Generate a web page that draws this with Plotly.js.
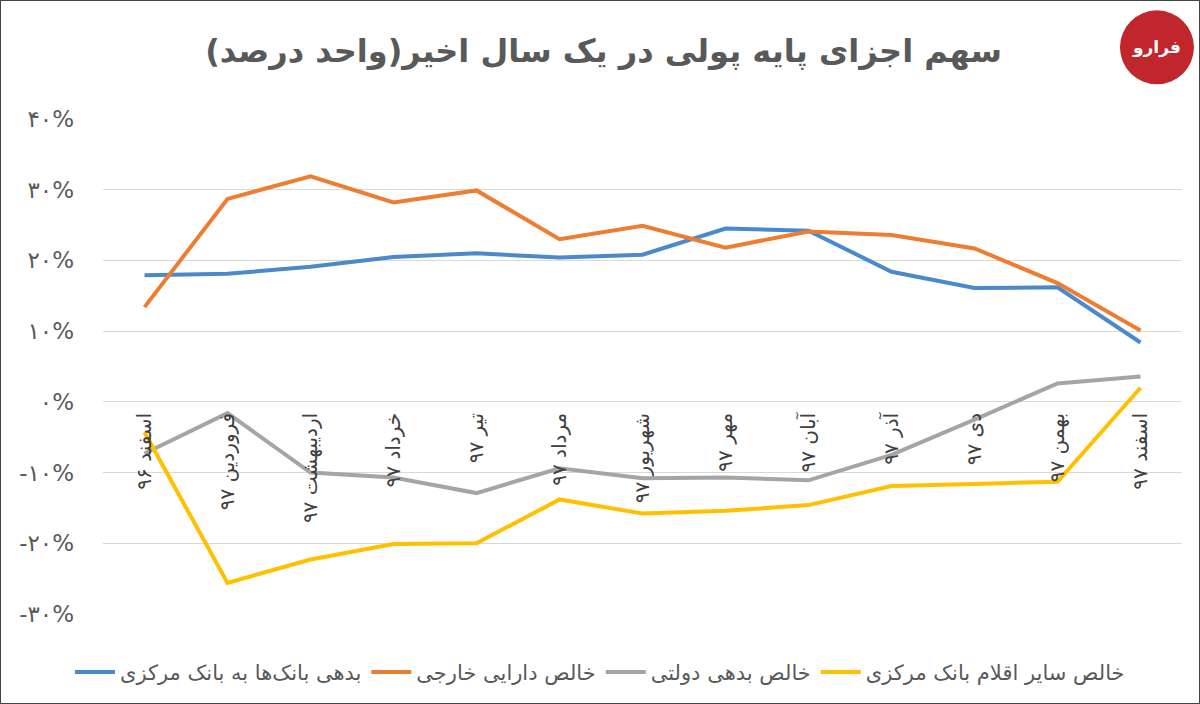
<!DOCTYPE html>
<html>
<head>
<meta charset="utf-8">
<script src="https://cdn.plot.ly/plotly-3.0.1.min.js"></script>
<style>
html,body{margin:0;padding:0;background:#fff;}
#wrap{position:relative;width:1200px;height:704px;}
#chart{width:1200px;height:704px;}
#frame{position:absolute;left:0;top:0;width:1200px;height:704px;box-sizing:border-box;border:1px solid #444;pointer-events:none;}
</style>
</head>
<body>
<div id="wrap"><div id="chart"></div><div id="frame"></div></div>
<script>
// Categories (months)
const categories = ["اسفند ۹۶","فروردین ۹۷","اردیبهشت ۹۷","خرداد ۹۷","تیر ۹۷","مرداد ۹۷","شهریور ۹۷","مهر ۹۷","آبان ۹۷","آذر ۹۷","دی ۹۷","بهمن ۹۷","اسفند ۹۷"];

// Series values (percent)
const banksDebt   = [17.9, 18.1, 19.1, 20.5, 21.0, 20.4, 20.8, 24.5, 24.2, 18.4, 16.1, 16.2, 8.4];
const foreignAssets = [13.4, 28.7, 31.9, 28.2, 29.9, 23.0, 24.9, 21.8, 24.1, 23.6, 21.7, 16.8, 10.1];
const govDebt     = [-7.3, -1.6, -10.0, -10.7, -12.9, -9.4, -10.8, -10.7, -11.1, -7.5, -2.5, 2.6, 3.6];
const otherItems  = [-4.3, -25.6, -22.3, -20.1, -20.0, -13.8, -15.8, -15.4, -14.6, -11.9, -11.6, -11.3, 2.0];

// Series names
const seriesNames = ["بدهی بانک‌ها به بانک مرکزی","خالص دارایی خارجی","خالص بدهی دولتی","خالص سایر اقلام بانک مرکزی"];

// Y tick labels
const yTickVals = [-30, -20, -10, 0, 10, 20, 30, 40];
const yTickText = ["-۳۰%","-۲۰%","-۱۰%","۰%","۱۰%","۲۰%","۳۰%","۴۰%"];

const colors = ["#4A89CB", "#ED7D31", "#A5A5A5", "#FFC000"];
const seriesData = [banksDebt, foreignAssets, govDebt, otherItems];

const traces = seriesData.map((vals, i) => ({
  type: "scatter",
  mode: "lines",
  x: categories,
  y: vals,
  name: seriesNames[i],
  line: {color: colors[i], width: 4},
  cliponaxis: false
}));

const font = "DejaVu Sans, Noto Sans, sans-serif";

const layout = {
  width: 1200,
  height: 704,
  paper_bgcolor: "#ffffff",
  plot_bgcolor: "#ffffff",
  margin: {l: 103, r: 18, t: 119, b: 90},
  title: {
    text: "<b>سهم اجزای پایه پولی در یک سال اخیر(واحد درصد)</b>",
    font: {family: font, size: 32, color: "#595959"},
    x: 0.503, xref: "container", xanchor: "center",
    y: 0.928, yref: "container", yanchor: "middle"
  },
  showlegend: true,
  legend: {
    orientation: "h",
    x: 0.5, xref: "container", xanchor: "center",
    y: 0.045, yref: "container", yanchor: "middle",
    font: {family: font, size: 21, color: "#595959"},
    traceorder: "normal",
    itemwidth: 40
  },
  xaxis: {
    type: "category",
    anchor: "free",
    position: 30/70,
    range: [-0.5, 12.5],
    showgrid: false,
    showline: false,
    zeroline: false,
    ticks: "",
    ticklabelstandoff: 6,
    tickangle: -90,
    tickfont: {family: font, size: 20, color: "#404040"},
    fixedrange: true
  },
  yaxis: {
    range: [-30, 40],
    tickvals: yTickVals,
    ticktext: yTickText,
    showgrid: true,
    gridcolor: "#D9D9D9",
    gridwidth: 1,
    zeroline: false,
    showline: false,
    ticks: "",
    ticklabelstandoff: 28,
    tickfont: {family: font, size: 23, color: "#595959"},
    fixedrange: true
  },
  shapes: [
    {type: "circle", xref: "paper", yref: "paper",
     x0: 0.9425, x1: 1.0111, y0: 1.0701, y1: 1.2195,
     fillcolor: "#C0262C", line: {width: 0}, layer: "above"}
  ],
  annotations: [
    {text: "<b>فرارو</b>", xref: "paper", yref: "paper", x: 0.9768, y: 1.1448,
     xanchor: "center", yanchor: "middle",
     showarrow: false, font: {family: font, size: 17, color: "#ffffff"}}
  ]
};

Plotly.newPlot("chart", traces, layout, {displayModeBar: false, staticPlot: true});
</script>
</body>
</html>
